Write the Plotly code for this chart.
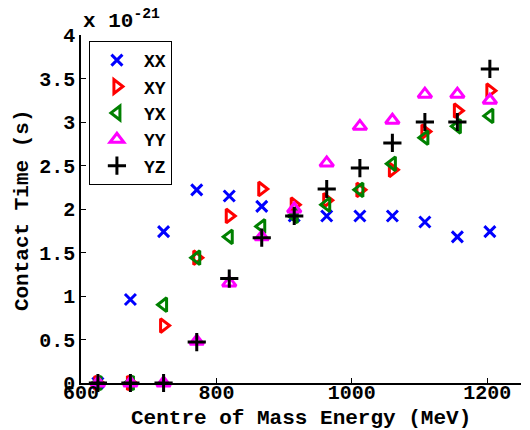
import plotly.graph_objects as go

energy = [625, 673, 722, 771, 819, 867, 915, 963, 1012, 1060, 1108, 1156, 1204]
xx = [0, 0.96, 1.74, 2.22, 2.15, 2.03, 1.92, 1.92, 1.92, 1.92, 1.85, 1.68, 1.74]
xy = [0, 0, 0.66, 1.44, 1.92, 2.23, 2.05, 2.10, 2.22, 2.45, 2.89, 3.13, 3.36]
yx = [0, 0, 0.90, 1.44, 1.68, 1.80, 1.92, 2.05, 2.22, 2.52, 2.82, 2.95, 3.07]
yy = [0, 0, 0, 0.48, 1.15, 1.68, 2.00, 2.53, 2.95, 3.02, 3.32, 3.32, 3.25]
yz = [0, 0, 0, 0.47, 1.20, 1.67, 1.92, 2.23, 2.47, 2.76, 3.00, 3.00, 3.61]

series = [
    ("XX", xx, "x-thin", "#0000ff", 11),
    ("XY", xy, "triangle-right-open", "#ff0000", 12),
    ("YX", yx, "triangle-left-open", "#008000", 12),
    ("YY", yy, "triangle-up-open", "#ff00ff", 12),
    ("YZ", yz, "cross-thin", "#000000", 13),
]

FONT = "Liberation Mono"
fig = go.Figure()
for name, vals, sym, col, sz in series:
    fig.add_trace(go.Scatter(
        x=energy, y=vals, mode="markers", name=name, cliponaxis=False,
        marker=dict(symbol=sym, size=sz, color=col, line=dict(color=col, width=3)),
    ))

fig.update_layout(
    width=530, height=430,
    margin=dict(l=81, r=9, t=35, b=47, autoexpand=False),
    plot_bgcolor="white", paper_bgcolor="white",
    font=dict(family=FONT, size=21, color="black", weight="bold"),
    showlegend=True,
    legend=dict(x=0.018, y=0.983, xanchor="left", yanchor="top",
                bordercolor="black", borderwidth=1, bgcolor="white",
                font=dict(family=FONT, size=18, weight="bold"),
                tracegroupgap=0, itemwidth=44),
    xaxis=dict(range=[600, 1250], tickvals=[600, 800, 1000, 1200],
               ticks="inside", ticklen=5, tickwidth=1, tickcolor="black",
               showline=True, linecolor="black", linewidth=1.5,
               showgrid=False, zeroline=False, automargin=False,
               ticklabelstandoff=-10, tickfont=dict(size=20)),
    yaxis=dict(range=[0, 4], tickvals=[0, 0.5, 1, 1.5, 2, 2.5, 3, 3.5, 4],
               ticktext=["0", "0.5", "1", "1.5", "2", "2.5", "3", "3.5", "4"],
               ticks="inside", ticklen=5, tickwidth=1, tickcolor="black",
               showline=True, linecolor="black", linewidth=1.5,
               showgrid=False, zeroline=False, automargin=False,
               tickfont=dict(size=20)),
    annotations=[
        dict(text="x 10<sup>-21</sup>", xref="paper", yref="paper",
             x=0, y=1, xanchor="left", yanchor="bottom", showarrow=False,
             font=dict(family=FONT, size=21, weight="bold")),
        dict(text="Centre of Mass Energy (MeV)", xref="paper", yref="paper",
             x=0.5, y=-0.102, xanchor="center", yanchor="middle", showarrow=False,
             font=dict(family=FONT, size=21, weight="bold")),
        dict(text="Contact Time (s)", xref="paper", yref="paper", textangle=-90,
             x=-0.134, y=0.497, xanchor="center", yanchor="middle", showarrow=False,
             font=dict(family=FONT, size=21, weight="bold")),
    ],
)
fig.write_html("out.html", config={"displayModeBar": False},
               post_script="document.body.style.margin='0';document.body.style.overflow='hidden';")
